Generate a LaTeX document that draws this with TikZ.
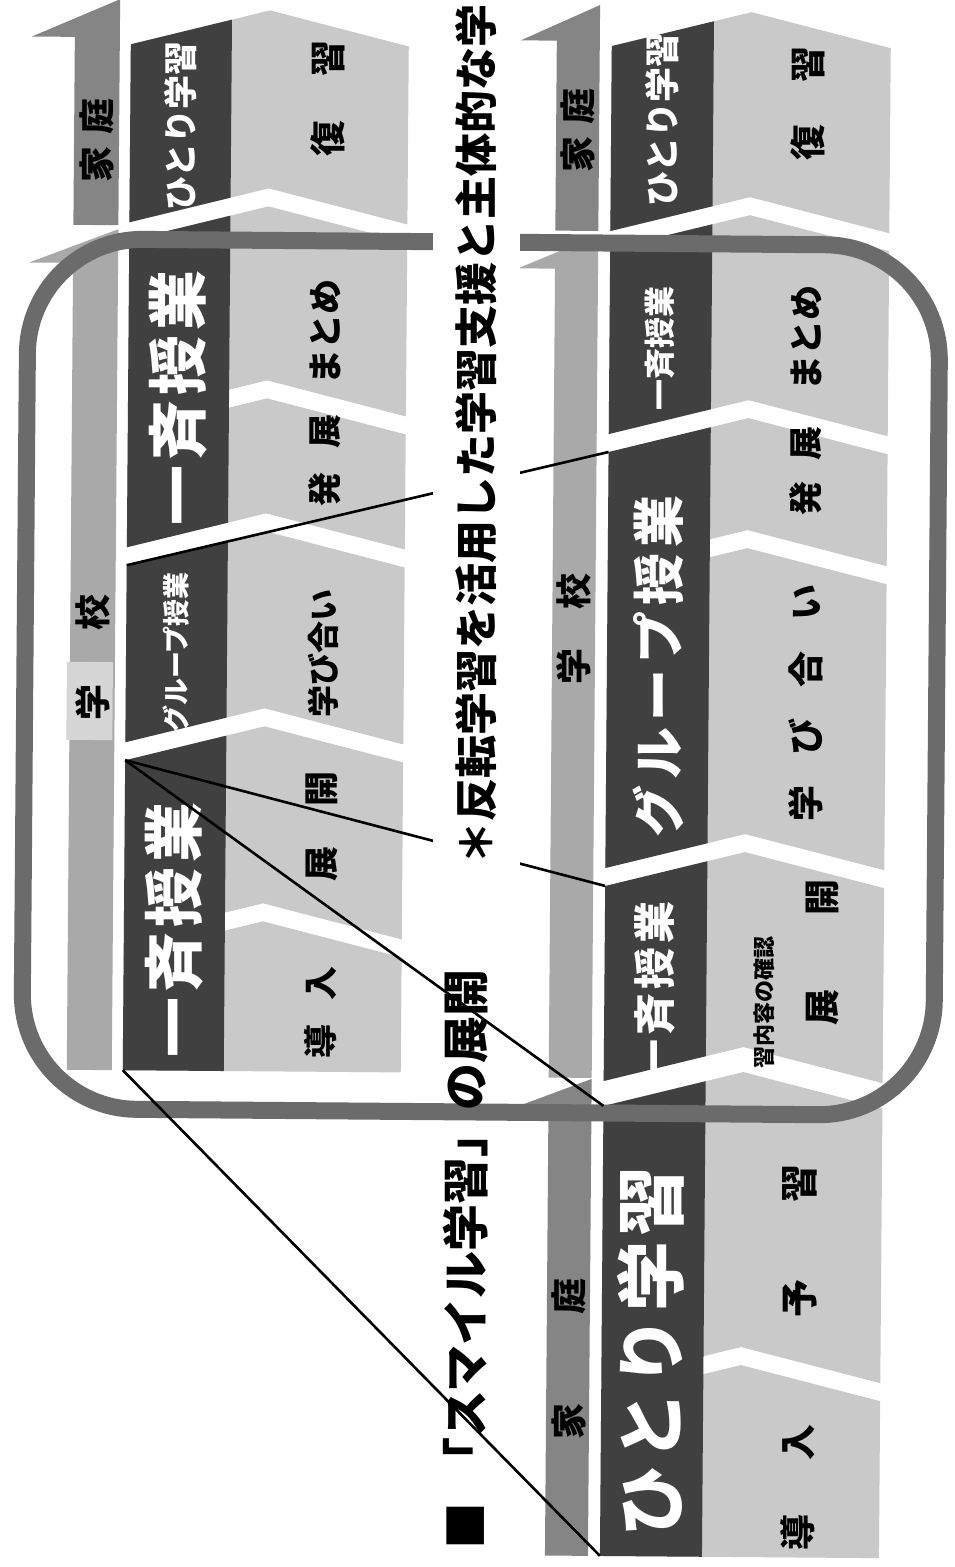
\documentclass[tikz,border=0pt]{standalone}
\usepackage{fontspec}
\setmainfont{Noto Sans CJK JP}

\definecolor{bandgray}{HTML}{404040}
\definecolor{chevgray}{HTML}{C9C9C9}
\definecolor{homegray}{HTML}{858585}
\definecolor{schoolgray}{HTML}{A9A9A9}
\definecolor{framegray}{HTML}{6B6B6B}

% chevron piece: left x, right x, top peak, bottom peak
\newcommand{\chev}[4]{(#1,#3+35) -- ({(#1+#2)/2},#3) -- (#2,#3+35) -- (#2,#4+35) -- ({(#1+#2)/2},#4) -- (#1,#4+35) -- cycle}
% last piece, flat bottom
\newcommand{\chevend}[4]{(#1,#3+35) -- ({(#1+#2)/2},#3) -- (#2,#3+35) -- (#2,#4) -- (#1,#4) -- cycle}
\newcommand{\fs}[1]{\fontsize{#1}{#1}\selectfont\bfseries}

\tikzset{
  band/.style={rotate=90, inner sep=0pt, text=white},
  phase/.style={rotate=90, inner sep=0pt, text=black},
  frame/.style={draw=framegray, line width=17pt, rounded corners=115pt},
  link/.style={line width=2.6pt, black},
}

\begin{document}
\begin{tikzpicture}[x=1pt, y=-1pt]
\useasboundingbox (0,0) rectangle (954,1567);
\begin{scope}[rotate around={-0.45:(477,783)}]
% home / school bars
\fill[homegray] (114,2) -- (114,228) -- (69,228) -- (69,40) -- (26,40) -- cycle;
\fill[schoolgray] (114,232) -- (114,1073) -- (69,1073) -- (69,266) -- (25,266) -- cycle;
\fill[homegray] (594,4) -- (594,230) -- (551,230) -- (551,40) -- (515,40) -- cycle;
\fill[schoolgray] (594,234) -- (594,1077) -- (551,1077) -- (551,268) -- (514,268) -- cycle;
\fill[homegray] (594,1078) -- (594,1555) -- (551,1555) -- (551,1108) -- (515,1108) -- cycle;
\fill[black!16] (66,665) rectangle (112,743);

% left flow
\foreach \t/\b in {12/190, 208/382, 400/515, 533/710, 728/905}
  \fill[chevgray] \chev{125}{403}{\t}{\b};
\fill[chevgray] \chevend{125}{403}{923}{1073};
\begin{scope}
  \clip (125,0) rectangle (226,1567);
  \foreach \t/\b in {12/190, 208/515, 533/710}
    \fill[bandgray] \chev{125}{403}{\t}{\b};
  \fill[bandgray] \chevend{125}{403}{728}{1073};
\end{scope}

% right flow
\foreach \t/\b in {10/195, 213/398, 416/528, 546/832, 850/1045, 1070/1345}
  \fill[chevgray] \chev{606}{885}{\t}{\b};
\fill[chevgray] \chevend{606}{885}{1363}{1555};
\begin{scope}
  \clip (606,0) rectangle (708,1567);
  \foreach \t/\b in {10/195, 213/398, 416/832, 850/1045}
    \fill[bandgray] \chev{606}{885}{\t}{\b};
  \fill[bandgray] \chevend{606}{885}{1070}{1555};
\end{scope}

% labels
\node[phase, font=\fs{36}] (lkatei) at (92,143) {家\hspace{12pt}庭};
\node[phase, font=\fs{36}] (lgakko) at (92,660) {学\hspace{54pt}校};
\node[phase, font=\fs{36}] (rkatei1) at (573,130) {家\hspace{12pt}庭};
\node[phase, font=\fs{36}] (rgakko) at (573,628) {学\hspace{39pt}校};
\node[phase, font=\fs{36}] (rkatei2) at (573,1358) {家\hspace{89pt}庭};

\node[band, font=\fs{34}] (lhitori) at (175,128) {ひとり学習};
\node[band, font=\fs{60}] (lisse1) at (175,400) {一\hspace{5pt}斉\hspace{5pt}授\hspace{5pt}業};
\node[band, font=\fs{27}] (lgroup) at (175,655) {グループ授業};
\node[band, font=\fs{60}] (lisse2) at (175,932) {一\hspace{5pt}斉\hspace{5pt}授\hspace{5pt}業};

\node[band, font=\fs{35}] (rhitori1) at (657,118) {ひとり学習};
\node[band, font=\fs{31}] (risse1) at (657,347) {一斉授業};
\node[band, font=\fs{52}] (rgroup) at (657,665) {グ\hspace{6pt}ル\hspace{6pt}ー\hspace{6pt}プ\hspace{6pt}授\hspace{6pt}業};
\node[band, font=\fs{42}] (risse2) at (657,990) {一\hspace{4pt}斉\hspace{4pt}授\hspace{4pt}業};
\node[band, font=\fs{70}] (rhitori2) at (655,1350) {ひ\hspace{5pt}と\hspace{5pt}り\hspace{5pt}学\hspace{5pt}習};

\node[phase, font=\fs{36}] (lfuku) at (322,100) {復\hspace{44pt}習};
\node[phase, font=\fs{35}] (lmatome) at (322,333) {まとめ};
\node[phase, font=\fs{34}] (lhatten) at (322,462) {発\hspace{24pt}展};
\node[phase, font=\fs{32}] (lmanabi) at (322,655) {学び合い};
\node[phase, font=\fs{35}] (ltenkai) at (322,828) {展\hspace{40pt}開};
\node[phase, font=\fs{34}] (ldonyu) at (322,1014) {導\hspace{24pt}入};

\node[phase, font=\fs{36}] (rfuku) at (803,101) {復\hspace{42pt}習};
\node[phase, font=\fs{35}] (rmatome) at (803,335) {まとめ};
\node[phase, font=\fs{34}] (rhatten) at (803,468) {発\hspace{21pt}展};
\node[phase, font=\fs{36}] (rmanabi) at (805,700) {学\hspace{31pt}び\hspace{31pt}合\hspace{31pt}い};
\node[phase, font=\fs{22}] (rkakunin) at (766,1000) {習内容の確認};
\node[phase, font=\fs{36}] (rtenkai) at (824,950) {展\hspace{74pt}開};
\node[phase, font=\fs{38}] (ryoshu) at (803,1238) {予\hspace{77pt}習};
\node[phase, font=\fs{36}] (rdonyu) at (803,1485) {導\hspace{54pt}入};

% school frame
\draw[frame] (480,242) -- (936,242) -- (936,1112) -- (24,1112) -- (24,242) -- cycle;

% zoom lines
\coordinate (lA) at (125,763);
\coordinate (lB) at (125,1073);
\coordinate (lG) at (125,568);
\coordinate (rG) at (606,451);
\coordinate (rA) at (606,885);
\coordinate (rH) at (606,1105);
\coordinate (rE) at (606,1555);
\draw[link] (lB) -- (rE);
\draw[link] (lA) -- (rA);
\draw[link] (lA) -- (rH);
\draw[link] (lG) -- (rG);

% title
\node[phase, anchor=west, font=\fs{47}] (title) at (472,1550) {■\hspace{18pt}「スマイル学習」の展開};
\node[phase, anchor=west, fill=white, minimum height=87pt, inner xsep=3pt, font=\fs{43}] (note) at (477,868) {＊反転学習を活用した学習支援と主体的な学};
\end{scope}
\end{tikzpicture}
\end{document}
